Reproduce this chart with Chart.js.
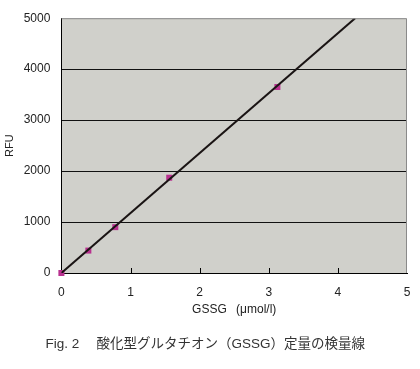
<!DOCTYPE html>
<html><head><meta charset="utf-8">
<script src="https://cdn.jsdelivr.net/npm/chart.js@4.4.1/dist/chart.umd.min.js"></script>
<style>html,body{margin:0;padding:0;background:#fff}#wrap{width:420px;height:369px;position:relative}</style>
</head><body><div id="wrap"><canvas id="c" width="420" height="369"></canvas></div>
<script>
const concX = [0, 0.39, 0.78, 1.56, 3.125];
const rfuY = [0, 440, 900, 1870, 3650];
const trendX = [0, 4.25];
const trendY = [0, 5000];
const xTicks = [0, 1, 2, 3, 4, 5];
const yTicks = [0, 1000, 2000, 3000, 4000, 5000];
const xTitle = 'GSSG\u2002 (μmol/l)';
const yTitle = 'RFU';
const caption = 'Fig. 2\u3000 酸化型グルタチオン（GSSG）定量の検量線';

const pts = concX.map((x, i) => ({x, y: rfuY[i]}));
const trend = trendX.map((x, i) => ({x, y: trendY[i]}));
const latin = '"Liberation Sans", Arial, sans-serif';

const plotDeco = {
  id: 'plotDeco',
  beforeDraw(chart) {
    const {ctx, chartArea: a} = chart;
    ctx.save();
    ctx.fillStyle = '#d0d0cb';
    ctx.fillRect(a.left, a.top, a.right - a.left, a.bottom - a.top);
    ctx.restore();
  },
  afterDatasetsDraw(chart) {
    const {ctx, chartArea: a, scales} = chart;
    ctx.save();
    ctx.strokeStyle = '#8a8a8a';
    ctx.lineWidth = 1;
    ctx.beginPath();
    ctx.moveTo(a.left, a.top + 0.5);
    ctx.lineTo(a.right - 0.5, a.top + 0.5);
    ctx.lineTo(a.right - 0.5, a.bottom);
    ctx.stroke();
    ctx.strokeStyle = '#000';
    ctx.beginPath();
    xTicks.forEach(v => {
      if (v === 0 || v === 5) return;
      const px = Math.round(scales.x.getPixelForValue(v)) + 0.5;
      ctx.moveTo(px, a.bottom);
      ctx.lineTo(px, a.bottom - 5);
    });
    ctx.stroke();
    ctx.restore();
  }
};

new Chart(document.getElementById('c'), {
  type: 'scatter',
  data: {
    datasets: [
      {
        type: 'line', data: trend, borderColor: '#1a1414', borderWidth: 2,
        pointRadius: 0, fill: false, tension: 0, order: 1
      },
      {
        data: pts, pointStyle: 'rect', pointRadius: 4.25, pointBackgroundColor: '#b8318f',
        pointBorderColor: '#b8318f', pointBorderWidth: 0, order: 2, clip: false
      }
    ]
  },
  options: {
    responsive: false, animation: false,
    layout: {padding: {left: 3.5, right: 13, top: 12, bottom: 17}},
    plugins: {
      legend: {display: false}, tooltip: {enabled: false},
      title: {
        display: true, text: caption, position: 'bottom', align: 'center',
        color: '#333', font: {family: '"Liberation Sans", "Noto Sans CJK JP", sans-serif', size: 13.5, weight: 'normal'},
        padding: {top: 19, bottom: 0}
      }
    },
    scales: {
      x: {
        type: 'linear', min: 0, max: 5,
        afterBuildTicks: s => { s.ticks = xTicks.map(v => ({value: v})); },
        afterFit: s => { s.paddingRight = 0; },
        grid: {drawOnChartArea: false, drawTicks: false},
        border: {color: '#000', width: 1},
        ticks: {color: '#222', padding: 12, font: {family: latin, size: 12}, callback: v => String(v)},
        title: {display: true, text: xTitle, color: '#222', padding: {top: -9, bottom: 0},
          font: {family: latin, size: 12}}
      },
      y: {
        type: 'linear', min: 0, max: 5000,
        afterBuildTicks: s => { s.ticks = yTicks.map(v => ({value: v})); },
        grid: {color: ctx => (ctx.tick && (ctx.tick.value === 0 || ctx.tick.value === 5000)) ? 'rgba(0,0,0,0)' : '#111', lineWidth: 1, drawTicks: false},
        border: {color: '#000', width: 1},
        ticks: {color: '#222', padding: 11, font: {family: latin, size: 12}, callback: v => String(v)},
        title: {display: true, text: yTitle, color: '#222', padding: {top: 0, bottom: -4},
          font: {family: latin, size: 11}}
      }
    }
  },
  plugins: [plotDeco]
});
</script></body></html>
